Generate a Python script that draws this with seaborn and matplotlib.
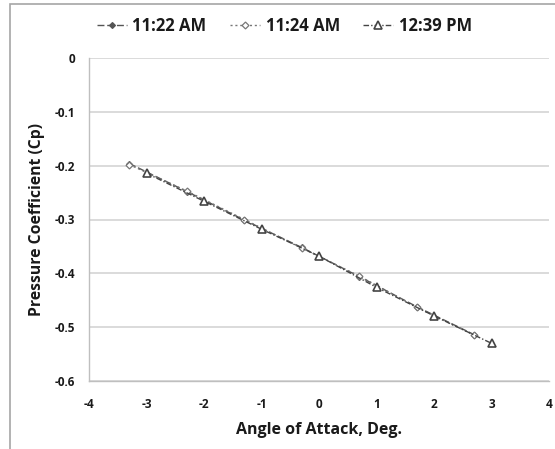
import matplotlib
matplotlib.use("Agg")
import matplotlib.pyplot as plt
import seaborn as sns
import pandas as pd
from matplotlib.patches import Rectangle

# Angle of attack (deg) and pressure coefficient for each run
aoa_1122 = [-3.3, -2.3, -1.3, -0.3, 0.7, 1.7, 2.7]
cp_1122 = [-0.196, -0.248, -0.301, -0.352, -0.406, -0.462, -0.514]
aoa_1124 = [-3.3, -2.3, -1.3, -0.3, 0.7, 1.7, 2.7]
cp_1124 = [-0.198, -0.247, -0.300, -0.353, -0.405, -0.463, -0.515]
aoa_1239 = [-3, -2, -1, 0, 1, 2, 3]
cp_1239 = [-0.214, -0.266, -0.318, -0.368, -0.426, -0.479, -0.530]

series_names = ["11:22 AM", "11:24 AM", "12:39 PM"]
x_ticks = [-4, -3, -2, -1, 0, 1, 2, 3, 4]
y_ticks = [0, -0.1, -0.2, -0.3, -0.4, -0.5, -0.6]

df = pd.concat([
    pd.DataFrame({"aoa": aoa_1122, "cp": cp_1122, "run": series_names[0]}),
    pd.DataFrame({"aoa": aoa_1124, "cp": cp_1124, "run": series_names[1]}),
    pd.DataFrame({"aoa": aoa_1239, "cp": cp_1239, "run": series_names[2]}),
])

sns.set_theme(style="white")
plt.rcParams["font.family"] = ["Open Sans", "DejaVu Sans"]

fig = plt.figure(figsize=(5.55, 4.49), dpi=100)
ax = fig.add_axes([89 / 555, 1 - 381 / 449, 460 / 555, 323 / 449])

styles = {
    "11:22 AM": dict(color="#555555", marker="D", markersize=3.0, mfc="#555555",
                     mec="#555555", linestyle=(0, (5, 2))),
    "11:24 AM": dict(color="#777777", marker="D", markersize=3.5, mfc="white",
                     mec="#777777", linestyle=(0, (1.5, 2))),
    "12:39 PM": dict(color="#444444", marker="^", markersize=5.5, mfc="white",
                     mec="#444444", mew=1.2, linestyle=(0, (4, 1.5, 1, 1.5))),
}

for name in series_names:
    st = styles[name]
    sns.lineplot(data=df[df["run"] == name], x="aoa", y="cp", ax=ax, label=name,
                 color=st["color"], marker=st["marker"], markersize=st["markersize"],
                 markerfacecolor=st["mfc"], markeredgecolor=st["mec"],
                 markeredgewidth=st.get("mew", 0.9), linestyle=st["linestyle"],
                 linewidth=1.0, sort=False, estimator=None)

ax.set_xlim(-4, 4)
ax.set_ylim(-0.6, 0)
ax.set_xticks(x_ticks)
ax.set_yticks(y_ticks)
ax.set_xticklabels([f"{t:g}" for t in x_ticks], fontsize=8.5, fontweight="bold")
ax.set_yticklabels([f"{t:g}" for t in y_ticks], fontsize=8.5, fontweight="bold")

ax.yaxis.grid(True, color="#d4d4d4", linewidth=1.2)
ax.xaxis.grid(False)
for side in ["top", "right"]:
    ax.spines[side].set_visible(False)
for side in ["left", "bottom"]:
    ax.spines[side].set_color("#bfbfbf")
    ax.spines[side].set_linewidth(1.0)
ax.tick_params(axis="both", which="both", direction="out", length=4, width=1,
               color="#bfbfbf", labelcolor="#1a1a1a", pad=6)
ax.tick_params(axis="x", pad=8)

ax.set_xlabel("Angle of Attack, Deg.", fontsize=11.5, fontweight="bold",
              color="#1a1a1a", labelpad=8)
ax.set_ylabel("Pressure Coefficient (Cp)", fontsize=11.3, fontweight="bold",
              color="#1a1a1a", labelpad=7)

leg = ax.legend(loc="lower center", bbox_to_anchor=(0.425, 1.025), ncol=3, frameon=False,
                fontsize=12, handlelength=1.8, handletextpad=0.35, columnspacing=1.4)
for t in leg.get_texts():
    t.set_fontweight("bold")
    t.set_color("#1a1a1a")

# Outer chart border
fig.patches.append(Rectangle((10 / 555, -0.02), 1.1, 1 - 4 / 449 + 0.02,
                             transform=fig.transFigure, fill=False,
                             edgecolor="#a6a6a6", linewidth=1.2))

fig.savefig("out.png", dpi=100)
